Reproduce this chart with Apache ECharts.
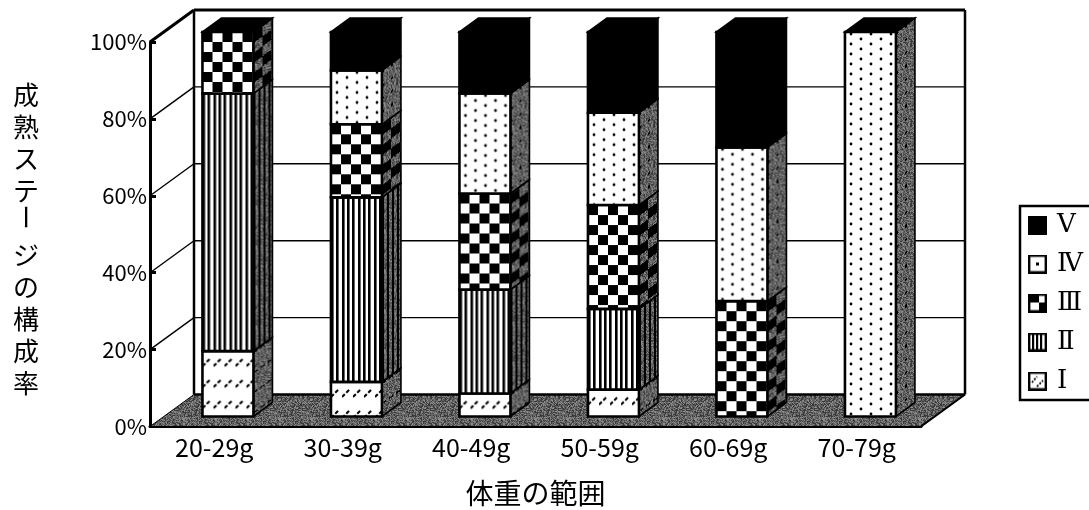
<!DOCTYPE html>
<html><head><meta charset="utf-8">
<style>html,body{margin:0;padding:0;background:#fff}#c{width:1089px;height:510px}</style>
<script src="https://cdn.jsdelivr.net/npm/echarts@6/dist/echarts.min.js"></script></head>
<body><div id="c"></div>
<script>
const categories = ['20-29g','30-39g','40-49g','50-59g','60-69g','70-79g'];
const stageI   = [17, 9, 6, 7, 0, 0];
const stageII  = [67, 48, 27, 21, 0, 0];
const stageIII = [16, 19, 25, 27, 30, 0];
const stageIV  = [0, 14, 26, 24, 40, 100];
const stageV   = [0, 10, 16, 21, 30, 0];
const stageNames = ['Ⅰ','Ⅱ','Ⅲ','Ⅳ','Ⅴ'];
const yTicks = [20,40,60,80,100];
const xTitle = '体重の範囲';
const yTitleParts = ['成','熟','ス','テ','{h|ー}','ジ','の','構','成','率'];

const wallDx=44, wallDy=-32, barW=51, barDx=13.7, barDy=-10, sideDx=19, sideDy=-14;
function canvas(w,h,draw){const c=document.createElement('canvas');c.width=w;c.height=h;draw(c.getContext('2d'));return c;}
function noise(x,y){let h=(x*374761393+y*668265263)|0;h=Math.imul(h^(h>>>13),1274126177);return ((h^(h>>>16))>>>0)%100;}
function greyPx(g,x,y){const n=noise(x,y);g.fillStyle=n<30?'#3a3a3a':(n<75?'#666':'#8c8c8c');g.fillRect(x,y,1,1);}
function sideTile(isBlack){return canvas(sideDx+2,40,g=>{for(let x=0;x<sideDx+2;x++)for(let y=0;y<40;y++){
  const yy=(y+x*(-sideDy)/sideDx+400)%40;
  if(isBlack(x,yy)){g.fillStyle='#000';g.fillRect(x,y,1,1);}else greyPx(g,x,y);}});}
const fronts=[
  canvas(11,21,g=>{g.fillStyle='#fff';g.fillRect(0,0,11,21);g.strokeStyle='#000';g.lineWidth=2;g.setLineDash([4,2]);g.beginPath();g.moveTo(0,15);g.lineTo(8,7);g.stroke();}),
  canvas(16,8,g=>{g.fillStyle='#fff';g.fillRect(0,0,16,8);g.fillStyle='#000';[0,5,11].forEach(x=>g.fillRect(x,0,2.6,8));}),
  canvas(20,20,g=>{g.fillStyle='#fff';g.fillRect(0,0,20,20);g.fillStyle='#000';g.fillRect(0,0,10,10);g.fillRect(10,10,10,10);}),
  canvas(20,10,g=>{g.fillStyle='#fff';g.fillRect(0,0,20,10);g.fillStyle='#000';g.beginPath();g.arc(6,2,1.4,0,7);g.arc(16,7,1.4,0,7);g.fill();}),
  canvas(4,4,g=>{g.fillStyle='#000';g.fillRect(0,0,4,4);})
];
const sides=[
  sideTile((x,y)=>(y%20)<1.6&&x%7<4),
  sideTile((x,y)=>(x%5)<2),
  sideTile((x,y)=>((Math.floor(x/9)+Math.floor(y/10))%2)===0),
  sideTile((x,y)=>(y%13)<2&&x%9<2),
  canvas(4,4,g=>{g.fillStyle='#000';g.fillRect(0,0,4,4);})
];
const floorTile=canvas(32,32,g=>{for(let x=0;x<32;x++)for(let y=0;y<32;y++)greyPx(g,x,y);});
const fill=c=>({image:c,repeat:'repeat'});

function icon(draw){return 'image://'+canvas(19,19,g=>{g.fillStyle='#fff';g.fillRect(0,0,19,19);draw(g);g.strokeStyle='#000';g.lineWidth=2.4;g.strokeRect(1.2,1.2,16.6,16.6);}).toDataURL();}
const icons=[
  icon(g=>{g.strokeStyle='#000';g.lineWidth=1.8;g.setLineDash([2,1.5]);g.beginPath();g.moveTo(4,11);g.lineTo(9,5);g.moveTo(9,15);g.lineTo(15,9);g.stroke();g.setLineDash([]);}),
  icon(g=>{g.fillStyle='#000';[4,8,12].forEach(x=>g.fillRect(x,0,2.2,19));}),
  icon(g=>{g.fillStyle='#000';g.fillRect(0,0,11,9);g.fillRect(11,9,8,10);}),
  icon(g=>{g.fillStyle='#000';g.fillRect(8,8,3,3);}),
  icon(g=>{g.fillStyle='#000';g.fillRect(0,0,19,19);})
];

const stages=[stageI,stageII,stageIII,stageIV,stageV];
const cum=categories.map(()=>0);
const series=[{
  type:'custom',name:'frame',silent:true,z:1,
  data:yTicks.map(v=>[0,v]),encode:{x:0,y:1},
  renderItem(params,api){
    const cs=params.coordSys, L=cs.x,R=cs.x+cs.width,B=cs.y+cs.height;
    const y=api.coord([0,api.value(1)])[1];
    const top=api.value(1)===100;
    const kids=[
      {type:'line',shape:{x1:L,y1:y,x2:L+wallDx,y2:y+wallDy},style:{stroke:'#000',lineWidth:top?3:1.4}},
      {type:'line',shape:{x1:L+wallDx,y1:y+wallDy,x2:R+wallDx,y2:y+wallDy},style:{stroke:'#000',lineWidth:top?3:1.4}}
    ];
    if(params.dataIndex===0){
      kids.unshift(
        {type:'polygon',shape:{points:[[L,B],[L+wallDx,B+wallDy],[R+wallDx,B+wallDy],[R,B]]},style:{fill:fill(floorTile),stroke:'#000',lineWidth:1}},
        {type:'line',shape:{x1:L+wallDx,y1:B+wallDy,x2:R+wallDx,y2:B+wallDy},style:{stroke:'#000',lineWidth:2.5}},
        {type:'line',shape:{x1:L+wallDx,y1:cs.y+wallDy,x2:L+wallDx,y2:B+wallDy},style:{stroke:'#000',lineWidth:2.5}},
        {type:'line',shape:{x1:R+wallDx,y1:cs.y+wallDy,x2:R+wallDx,y2:B+wallDy},style:{stroke:'#000',lineWidth:2.5}},
        {type:'line',shape:{x1:R,y1:B,x2:R+wallDx,y2:B+wallDy},style:{stroke:'#000',lineWidth:2}});
    }
    return {type:'group',children:kids};
  }
}];
stages.forEach((vals,si)=>{
  const data=vals.map((v,i)=>{const lo=cum[i];cum[i]+=v;return [i,lo,cum[i]];});
  series.push({
    type:'custom',name:stageNames[si],z:2+si,silent:true,
    itemStyle:{color:'#000'},
    data:data,encode:{x:0,y:[1,2]},
    renderItem(params,api){
      const lo=api.value(1),hi=api.value(2);
      if(hi<=lo) return null;
      const p0=api.coord([api.value(0),lo]),p1=api.coord([api.value(0),hi]);
      const x0=p0[0]+barDx-barW/2,x1=x0+barW,yb=p0[1]+barDy,yt=p1[1]+barDy,h=yb-yt;
      const kids=[
        {type:'polygon',x:x1,y:yt,shape:{points:[[0,0],[sideDx,sideDy],[sideDx,sideDy+h],[0,h]]},style:{fill:fill(sides[si]),stroke:'#000',lineWidth:1.6}},
        {type:'rect',x:x0,y:yt,shape:{x:0,y:0,width:barW,height:h},style:{fill:fill(fronts[si]),stroke:'#000',lineWidth:2.6}}
      ];
      if(hi>=100) kids.push({type:'polygon',shape:{points:[[x0,yt],[x0+sideDx,yt+sideDy],[x1+sideDx,yt+sideDy],[x1,yt]]},style:{fill:'#000',stroke:'#000',lineWidth:1.6}});
      return {type:'group',children:kids};
    }
  });
});
const cjk='"Noto Sans CJK JP",sans-serif';
const chart=echarts.init(document.getElementById('c'),null,{renderer:'canvas'});
chart.setOption({
  animation:false,backgroundColor:'#fff',
  grid:{left:150,right:168,top:42,bottom:83.5,outerBoundsMode:'none'},
  xAxis:{type:'category',data:categories,
    axisLine:{lineStyle:{color:'#000',width:3}},
    axisTick:{show:true,inside:true,length:5,lineStyle:{color:'#000',width:3}},
    axisLabel:{color:'#000',fontFamily:cjk,fontSize:25,margin:8,interval:0},
    name:xTitle,nameLocation:'middle',nameGap:53,nameTextStyle:{color:'#000',fontFamily:cjk,fontSize:28}},
  yAxis:{type:'value',min:0,max:100,interval:20,
    axisLine:{show:true,lineStyle:{color:'#000',width:3}},
    axisTick:{show:true,inside:true,length:6,lineStyle:{color:'#000',width:3}},
    splitLine:{show:false},
    axisLabel:{color:'#000',fontFamily:cjk,fontSize:22,margin:3,padding:[3,0,0,0],formatter:'{value}%'},
    name:yTitleParts.join('\n'),
    nameLocation:'middle',nameRotate:0,nameGap:111,
    nameTextStyle:{color:'#000',fontFamily:cjk,fontSize:26,lineHeight:32,padding:[10,0,0,0],
      rich:{h:{color:'rgba(0,0,0,0)',fontFamily:cjk,fontSize:26,lineHeight:32}}}},
  legend:{orient:'vertical',left:1020,top:206,padding:[6,50,6,8],itemWidth:19,itemHeight:19,itemGap:13,
    borderColor:'#000',borderWidth:2.5,selectedMode:false,
    textStyle:{color:'#000',fontFamily:'"DejaVu Serif",serif',fontSize:26,lineHeight:19,padding:[0,0,0,5]},
    data:[4,3,2,1,0].map(i=>({name:stageNames[i],icon:icons[i]}))},
  graphic:[{type:'text',x:26,y:217,rotation:-Math.PI/2,silent:true,
    style:{text:'ー',fontFamily:cjk,fontSize:26,fill:'#000',align:'center',verticalAlign:'middle'}}],
  series:series
});
</script></body></html>
